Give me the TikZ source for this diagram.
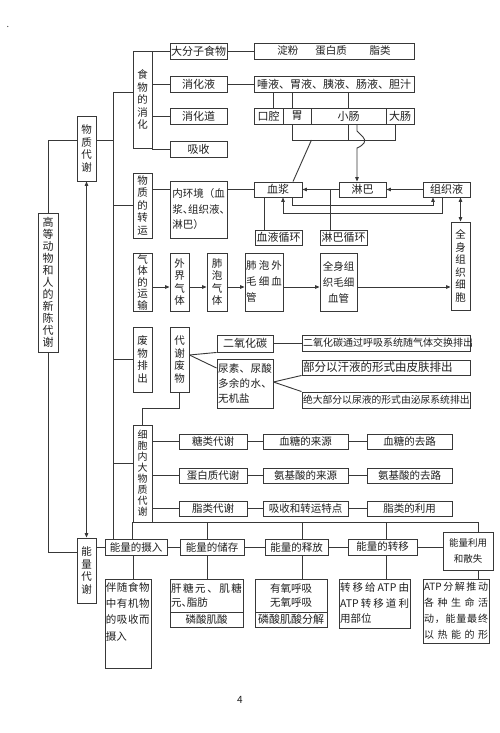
\documentclass[tikz,border=0pt]{standalone}
\usepackage{fontspec}
\setmainfont{Noto Sans CJK SC}
\usetikzlibrary{arrows.meta,calc}
\newcommand\jst[2]{\makebox[#1][s]{\jstx#2\relax\unskip}}
\def\jstx#1{\ifx\relax#1\else#1\hfil\expandafter\jstx\fi}
\newcommand\atpw{ATP}
\newcommand\cdun{\makebox[0.5em][l]{、}}
\begin{document}
\begin{tikzpicture}[x=1pt,y=-1pt,
  ln/.style={draw=black!78,line width=0.9pt},
  bx/.style={draw=black!78,line width=0.9pt,inner sep=0pt,text=black!88,align=center,font=\fontsize{10.5}{12}\selectfont},
  hb/.style={bx,font=\fontsize{11}{13}\selectfont},
  vb/.style={bx,font=\fontsize{10.5}{12.5}\selectfont},
  arr/.style={ln,-{Triangle[length=4.5pt,width=3.6pt]}},
  darr/.style={ln,{Triangle[length=4.5pt,width=3.6pt]}-{Triangle[length=4.5pt,width=3.6pt]}},
]
\fill[white] (0,0) rectangle (500,733);
\useasboundingbox (0,0) rectangle (500,733);

\node[text=black!80,font=\fontsize{9}{9}\selectfont,inner sep=0pt] (dot) at (8,27) {.};
\node[text=black!88,font=\fontsize{10}{10}\selectfont,inner sep=0pt] (pg) at (240,700) {4};

% left column
\node[bx,minimum width=20,minimum height=139,font=\fontsize{11}{12}\selectfont] (title) at (48,282.5) {高\\等\\动\\物\\和\\人\\的\\新\\陈\\代\\谢};
\node[vb,minimum width=19,minimum height=65] (wzds) at (86.5,148.5) {物\\质\\代\\谢};
\node[vb,minimum width=19,minimum height=65] (nlds) at (86.5,570.5) {能\\量\\代\\谢};

% food digestion
\node[vb,minimum width=19,minimum height=97] (swxh) at (142.5,99.5) {食\\物\\的\\消\\化};
\node[hb,minimum width=57,minimum height=16] (dfz) at (198.5,51) {大分子食物};
\node[hb,minimum width=57,minimum height=16] (xhy) at (198.5,84) {消化液};
\node[hb,minimum width=57,minimum height=16] (xhd) at (198.5,116) {消化道};
\node[hb,minimum width=57,minimum height=16] (xs) at (198.5,149) {吸收};
\node[hb,minimum width=160,minimum height=16,font=\fontsize{10.5}{12}\selectfont] (dfb) at (334,51) {淀粉\hspace{17pt}蛋白质\hspace{23pt}脂类};
\node[hb,minimum width=160,minimum height=16] (xhyl) at (334,84) {唾液、胃液、胰液、肠液、胆汁};
\node[hb,minimum width=29,minimum height=16] (kq) at (268.5,116) {口腔};
\node[hb,minimum width=28,minimum height=16] (wei) at (297,116) {胃};
\node[hb,minimum width=75,minimum height=16] (xc) at (348.5,116) {小肠};
\node[hb,minimum width=28,minimum height=16] (dc) at (400,116) {大肠};

% transport
\node[vb,minimum width=19,minimum height=65] (wzzy) at (142.5,205.5) {物\\质\\的\\转\\运};
\node[bx,minimum width=57,minimum height=57,align=left,font=\fontsize{10.5}{15.5}\selectfont] (nhj) at (198.5,209.5) {内环境（血\\浆\cdun 组织液\cdun\\淋巴）};
\node[hb,minimum width=48,minimum height=15] (xj) at (278,189.5) {血浆};
\node[hb,minimum width=47,minimum height=15] (lb) at (362.5,189.5) {淋巴};
\node[hb,minimum width=47,minimum height=15] (zzy) at (446.5,189.5) {组织液};
\node[hb,minimum width=47,minimum height=15] (xyxh) at (278.5,237.5) {血液循环};
\node[hb,minimum width=47,minimum height=15] (lbxh) at (343.5,237.5) {淋巴循环};
\node[vb,minimum width=19,minimum height=88] (qsxb) at (460.5,266) {全\\身\\组\\织\\细\\胞};

% gas
\node[bx,minimum width=19,minimum height=58,font=\fontsize{10.5}{11.5}\selectfont] (qtys) at (142.5,282) {气\\体\\的\\运\\输};
\node[bx,minimum width=19,minimum height=58,font=\fontsize{10.5}{12.5}\selectfont] (wjqt) at (179.5,282) {外\\界\\气\\体};
\node[bx,minimum width=20,minimum height=58,font=\fontsize{10.5}{12.5}\selectfont] (fpqt) at (217,282) {肺\\泡\\气\\体};
\node[bx,minimum width=38,minimum height=58,align=left,font=\fontsize{10.5}{16}\selectfont] (fpwmx) at (264,282) {\jst{36pt}{肺泡外}\\\jst{36pt}{毛细血}\\管};
\node[bx,minimum width=37,minimum height=58,font=\fontsize{10.5}{16}\selectfont] (qsmx) at (338.5,282) {全身组\\织毛细\\血管};

% waste
\node[vb,minimum width=19,minimum height=65] (fwpc) at (142.5,359.5) {废\\物\\排\\出};
\node[vb,minimum width=19,minimum height=65] (dxfw) at (179.5,359.5) {代\\谢\\废\\物};
\node[hb,minimum width=56,minimum height=17] (eyht) at (245,343.5) {二氧化碳};
\node[bx,minimum width=56,minimum height=49,align=left,font=\fontsize{10.5}{15}\selectfont] (nsns) at (245,383.5) {\jst{54pt}{尿素、尿酸}\\\jst{54pt}{多余的水、}\\无机盐};
\node[bx,minimum width=168,minimum height=16,font=\fontsize{10}{12}\selectfont] (eyhtt) at (386,343) {\makebox[166pt][l]{二氧化碳通过呼吸系统随气体交换排出}};
\node[bx,minimum width=168,minimum height=15,font=\fontsize{11.5}{12}\selectfont] (hy) at (386,367.5) {\makebox[166pt][l]{部分以汗液的形式由皮肤排出}};
\node[bx,minimum width=168,minimum height=16,font=\fontsize{9.8}{12}\selectfont] (jdbf) at (386,400) {\makebox[166pt][l]{绝大部分以尿液的形式由泌尿系统排出}};

% cell metabolism
\node[bx,minimum width=19,minimum height=97,font=\fontsize{10}{11}\selectfont] (xbn) at (142.5,473.5) {细\\胞\\内\\大\\物\\质\\代\\谢};
\node[bx,minimum width=68,minimum height=15] (tl) at (213,441.5) {糖类代谢};
\node[bx,minimum width=85,minimum height=15] (xtly) at (305.5,441.5) {血糖的来源};
\node[bx,minimum width=85,minimum height=15] (xtql) at (409.5,441.5) {血糖的去路};
\node[bx,minimum width=68,minimum height=15] (dbz) at (213,475.5) {蛋白质代谢};
\node[bx,minimum width=85,minimum height=15] (ajly) at (305.5,475.5) {氨基酸的来源};
\node[bx,minimum width=85,minimum height=15] (ajql) at (409.5,475.5) {氨基酸的去路};
\node[bx,minimum width=68,minimum height=15] (zl) at (213,508.5) {脂类代谢};
\node[bx,minimum width=85,minimum height=15] (xszy) at (305.5,508.5) {吸收和转运特点};
\node[bx,minimum width=85,minimum height=15] (zlly) at (409.5,508.5) {脂类的利用};

% energy
\node[bx,minimum width=62,minimum height=16] (nlsr) at (136,547) {能量的摄入};
\node[bx,minimum width=64,minimum height=16] (nlcc) at (212,547) {能量的储存};
\node[bx,minimum width=63,minimum height=16] (nlsf) at (296.5,547) {能量的释放};
\node[bx,minimum width=69,minimum height=16] (nlzy) at (382.5,547) {能量的转移};
\node[bx,minimum width=50,minimum height=38,font=\fontsize{9.5}{16}\selectfont] (nlly) at (468,551) {能量利用\\和散失};

\node[bx,minimum width=46,minimum height=89] (bsw) at (128,623.5) {};
\node[anchor=north west,inner xsep=1pt,inner ysep=3.5pt,align=left,text=black!88,font=\fontsize{10.5}{16.3}\selectfont] (bswt) at (bsw.north west) {\jst{44pt}{伴随食物}\\\jst{44pt}{中有机物}\\\jst{44pt}{的吸收而}\\摄入};
\node[bx,minimum width=73,minimum height=33,align=left,font=\fontsize{10.5}{14}\selectfont] (cc1) at (206.5,595.5) {\jst{71pt}{肝糖元、肌糖}\\元\cdun 脂肪};
\node[bx,minimum width=73,minimum height=15] (cc2) at (206.5,619.5) {磷酸肌酸};
\node[bx,minimum width=72,minimum height=33,font=\fontsize{10.5}{14}\selectfont] (sf1) at (291,595.5) {有氧呼吸\\无氧呼吸};
\node[bx,minimum width=72,minimum height=15,font=\fontsize{11}{12}\selectfont] (sf2) at (291,619.5) {磷酸肌酸分解};
\node[bx,minimum width=71,minimum height=49,align=left,font=\fontsize{10.5}{15.5}\selectfont] (zyb) at (374.5,603.5) {\jst{69pt}{转移给\atpw 由}\\\jst{69pt}{\atpw 转移道利}\\用部位};
\node[bx,minimum width=66,minimum height=64,align=left,font=\fontsize{10}{16}\selectfont] (atpb) at (456,611) {\jst{64pt}{\atpw 分解推动}\\\jst{64pt}{各种生命活}\\\jst{64pt}{动，能量最终}\\\jst{64pt}{以热能的形}};

% helper coordinates
\coordinate (spt) at (113,92);
\coordinate (ywz) at (0,140);
\coordinate (ynl) at (0,552);
\coordinate (ybr) at (0,140);
\coordinate (yl1) at (0,205);
\coordinate (yl2) at (0,213);
\coordinate (yg) at (0,287);
\coordinate (yw) at (0,408);
\coordinate (yxb) at (0,463);

% left structure
\draw[ln] (title.north) |- (wzds.west |- ywz);
\draw[ln] (wzds.east |- ywz) -- (spt |- ywz);
\draw[ln] (title.south) |- (nlds.west |- ynl);
\draw[darr] (wzds.south) -- (nlds.north);
\draw[ln] (spt) -- (spt |- nlsr.north);
\draw[ln] (spt) -- (spt -| swxh.west);
\draw[ln] (spt |- wzzy.west) -- (wzzy.west);
\draw[ln] (spt |- fwpc.west) -- (fwpc.west);
\draw[ln] (spt |- yxb) -- (xbn.west |- yxb);

% digestion
\draw[ln] (swxh.east |- dfz) -- (dfz.west);
\draw[ln] (swxh.east |- xhy) -- (xhy.west);
\draw[ln] (swxh.east |- xhd) -- (xhd.west);
\draw[ln] (swxh.east |- xs) -- (xs.west);
\draw[ln] (dfz.east) -- (dfb.west);
\draw[ln] (xhy.east) -- (xhyl.west);
\draw[ln] ([xshift=4.5]kq.north) -- ([xshift=4.5]kq.north |- xhyl.south);
\draw[ln] ([xshift=-5]wei.north) -- ([xshift=-5]wei.north |- xhyl.south);
\draw[ln] (xc.north) -- (xc.north |- xhyl.south);
\draw[ln] ([xshift=-5]wei.south) |- ([xshift=-5]dc.south |- ybr) -- ([xshift=-5]dc.south);
\draw[ln] (xc.south) -- (xc.south |- ybr);
\draw[ln] (wei.south east |- ybr) -- ([xshift=15]xj.north);
\draw[arr] ([xshift=8.5]xc.south) -- (357,131) -- (363,137) .. controls (367,141) and (364,145) .. (357,148) -- ([xshift=-5.5]lb.north);

% transport
\draw[ln] (wzzy.east |- xj) -- (nhj.west |- xj);
\draw[ln] (nhj.east |- xj) -- (xj.west);
\draw[arr] (lb.west) -- (xj.east);
\draw[arr] (zzy.west) -- (lb.east);
\draw[ln] ([xshift=-13.5]lbxh.north) -- ([xshift=-13.5]lbxh.north |- lb.west);
\draw[ln] ([xshift=-14]xj.south) -- ([xshift=-14]xj.south |- xyxh.north);
\draw[arr] ([xshift=14]xj.south) |- ([xshift=-13.5]zzy.south |- yl1) -- ([xshift=-13.5]zzy.south);
\draw[arr] ([xshift=-4.5]zzy.south) |- ([xshift=5]xj.south |- yl2) -- ([xshift=5]xj.south);
\draw[darr] (zzy.south -| qsxb.north) -- (qsxb.north);

% gas
\draw[arr] (qtys.east |- yg) -- (wjqt.west |- yg);
\draw[arr] (wjqt.east |- yg) -- (fpqt.west |- yg);
\draw[arr] (fpqt.east |- yg) -- (fpwmx.west |- yg);
\draw[arr] (fpwmx.east |- yg) -- (qsmx.west |- yg);
\draw[arr] (qsmx.east |- yg) -- (qsxb.west |- yg);

% waste
\draw[ln] ([yshift=4.5]dxfw.east) -- (eyht.south west);
\draw[ln] ([yshift=4.5]dxfw.east) -- ([yshift=15.5]nsns.west);
\draw[ln] (eyht.east) -- (eyht.east -| eyhtt.west);
\draw[ln] ([yshift=1.5]nsns.east) -- (hy.south west);
\draw[ln] ([yshift=1.5]nsns.east) -- (jdbf.north west);
\draw[ln] (dxfw.south) |- (xbn.north |- yw) -- (xbn.north);

% cell metabolism
\draw[ln] (xbn.east |- tl) -- (tl.west);
\draw[ln] (tl.east) -- (xtly.west);
\draw[ln] (xtly.east) -- (xtql.west);
\draw[ln] (xbn.east |- dbz) -- (dbz.west);
\draw[ln] (dbz.east) -- (ajly.west);
\draw[ln] (ajly.east) -- (ajql.west);
\draw[ln] (xbn.east |- zl) -- (zl.west);
\draw[ln] (zl.east) -- (xszy.west);
\draw[ln] (xszy.east) -- (zlly.west);

% energy
\draw[ln] (xbn.south east) -- ([xshift=10]nlly.north |- xbn.south);
\draw[ln] (xbn.south west) -- (xbn.south west |- nlsr.north);
\draw[ln] ([xshift=-5]nlcc.north) -- ([xshift=-5]nlcc.north |- xbn.south);
\draw[ln] ([xshift=5.5]nlsf.north) -- ([xshift=5.5]nlsf.north |- xbn.south);
\draw[ln] ([xshift=3.5]nlzy.north) -- ([xshift=3.5]nlzy.north |- xbn.south);
\draw[ln] ([xshift=10]nlly.north) -- ([xshift=10]nlly.north |- xbn.south);
\draw[ln] (nlds.east |- nlsr) -- (nlsr.west);
\draw[ln] (nlsr.east) -- (nlcc.west);
\draw[ln] (nlcc.east) -- (nlsf.west);
\draw[ln] (nlsf.east) -- (nlzy.west);
\draw[ln] (nlzy.east) -- (nlzy.east -| nlly.west);
\draw[ln] ([xshift=-3]nlsr.south) -- ([xshift=-3]nlsr.south |- bsw.north);
\draw[ln] ([xshift=-5]nlcc.south) -- ([xshift=-5]nlcc.south |- cc1.north);
\draw[ln] ([xshift=5.5]nlsf.south) -- ([xshift=5.5]nlsf.south |- sf1.north);
\draw[ln] ([xshift=3.5]nlzy.south) -- ([xshift=3.5]nlzy.south |- zyb.north);
\draw[ln] ([xshift=10]nlly.south) -- ([xshift=10]nlly.south |- atpb.north);
\end{tikzpicture}
\end{document}
